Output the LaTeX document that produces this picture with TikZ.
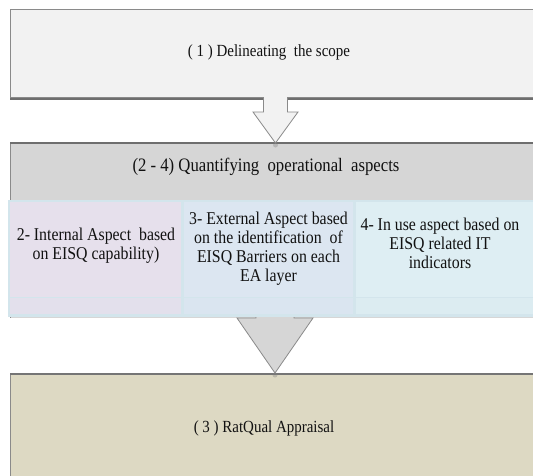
\documentclass[tikz,border=0pt]{standalone}
\usepackage{fontspec}
\setmainfont[FakeStretch=0.88]{Liberation Serif}
\usetikzlibrary{calc}
\definecolor{boxone}{HTML}{F2F2F2}
\definecolor{boxtwo}{HTML}{D6D6D6}
\definecolor{boxthree}{HTML}{DDD9C3}
\definecolor{edgegray}{HTML}{8A8A8A}
\definecolor{shadowgray}{HTML}{6E6E6E}
\definecolor{tableedge}{HTML}{D3E5EC}
\definecolor{cellA}{HTML}{E6E0EC}
\definecolor{cellB}{HTML}{DCE6F1}
\definecolor{cellC}{HTML}{DEEEF3}
\definecolor{txt}{HTML}{111111}
\begin{document}
\begin{tikzpicture}[x=1pt,y=-1pt,
  panel/.style={draw=none, inner sep=0pt, anchor=north west},
  paneledge/.style={draw=edgegray, line width=0.8pt},
  cellbox/.style={draw=none, inner sep=0pt, anchor=north west},
  label1/.style={text=txt, inner sep=0pt, font=\fontsize{17}{19}\selectfont},
  label2/.style={text=txt, inner sep=0pt, font=\fontsize{19}{21}\selectfont},
  celltext/.style={text=txt, inner sep=0pt, align=center, font=\fontsize{18}{19}\selectfont},
  arrowedge/.style={draw=edgegray, line width=0.8pt, line join=miter}
]
\clip (0,0) rectangle (533,475);
\fill[white] (0,0) rectangle (533,475);

% Box 1
\node[panel, fill=boxone, minimum width=540, minimum height=88] (b1) at (10,9) {};
\draw[paneledge] (b1.north east) -- (b1.north west) -- (b1.south west) -- (b1.south east);
\draw[shadowgray, line width=2pt] ($(b1.south west)+(0,1.2)$) -- ($(b1.south east)+(0,1.2)$);
\node[label1] (t1) at (269,52) {( 1 ) Delineating\ \ the scope};

% Box 2
\node[panel, fill=boxtwo, minimum width=540, minimum height=175] (b2) at (10,143) {};
\draw[paneledge] (b2.north east) -- (b2.north west) -- (b2.south west);
\draw[edgegray!80!black, line width=1.4pt] (b2.north west) -- (b2.north east);
\node[label2] (t2) at (266,167) {(2 - 4) Quantifying\ \ operational\ \ aspects};

% Box 3
\node[panel, fill=boxthree, minimum width=540, minimum height=110] (b3) at (10,373) {};
\draw[paneledge] (b3.north east) -- (b3.north west) -- (b3.south west);
\draw[edgegray!85!black, line width=2pt] ($(b3.north west)+(0,0.5)$) -- ($(b3.north east)+(0,0.5)$);
\node[label1] (t3) at (264,428) {( 3 ) RatQual Appraisal};

% Arrow 1 (box 1 -> box 2)
\coordinate (tipA) at ($(b2.north west)+(265.5,0)$);
\fill[boxone] ($(tipA)+(-12,-49)$) -- ($(tipA)+(-12,-31)$) -- ($(tipA)+(-22.5,-31)$) -- (tipA)
  -- ($(tipA)+(22.5,-31)$) -- ($(tipA)+(12,-31)$) -- ($(tipA)+(12,-49)$) -- cycle;
\draw[arrowedge] ($(tipA)+(-12,-46)$) -- ($(tipA)+(-12,-31)$) -- ($(tipA)+(-22.5,-31)$) -- (tipA)
  -- ($(tipA)+(22.5,-31)$) -- ($(tipA)+(12,-31)$) -- ($(tipA)+(12,-46)$);
\fill[gray, opacity=0.35] ($(tipA)+(0,2)$) circle (2.5);

% Arrow 2 (table -> box 3)
\coordinate (tipB) at ($(b3.north west)+(265,0)$);
\draw[arrowedge, fill=boxtwo] ($(tipB)+(-19,-78)$) -- ($(tipB)+(-19,-55)$) -- ($(tipB)+(-38,-55)$) -- (tipB)
  -- ($(tipB)+(38,-55)$) -- ($(tipB)+(19,-55)$) -- ($(tipB)+(19,-78)$);
\fill[gray, opacity=0.35] ($(tipB)+(0,2)$) circle (2.5);

% Table of three aspects
\node[cellbox, fill=tableedge, minimum width=545, minimum height=117] (tab) at (8,200) {};
\node[cellbox, fill=cellA, minimum width=171, minimum height=95] (cA) at (10,202) {};
\node[cellbox, fill=cellB, minimum width=169, minimum height=95] (cB) at (184,202) {};
\node[cellbox, fill=cellC, minimum width=190, minimum height=95] (cC) at (356,202) {};
\node[cellbox, fill=cellA, fill opacity=0.85, minimum width=171, minimum height=16] (dA) at (10,298) {};
\node[cellbox, fill=cellB, fill opacity=0.85, minimum width=169, minimum height=16] (dB) at (184,298) {};
\node[cellbox, fill=cellC, fill opacity=0.85, minimum width=190, minimum height=16] (dC) at (356,298) {};

\node[celltext] (tA) at (96,246) {2- Internal Aspect\ \ based\\on EISQ capability)};
\node[celltext] (tB) at (268.5,249) {3- External Aspect based\\on the identification\ \ of\\EISQ Barriers on each\\EA layer};
\node[celltext] (tC) at (440,243) {4- In use aspect based on\\EISQ related IT\\indicators};
\end{tikzpicture}
\end{document}
